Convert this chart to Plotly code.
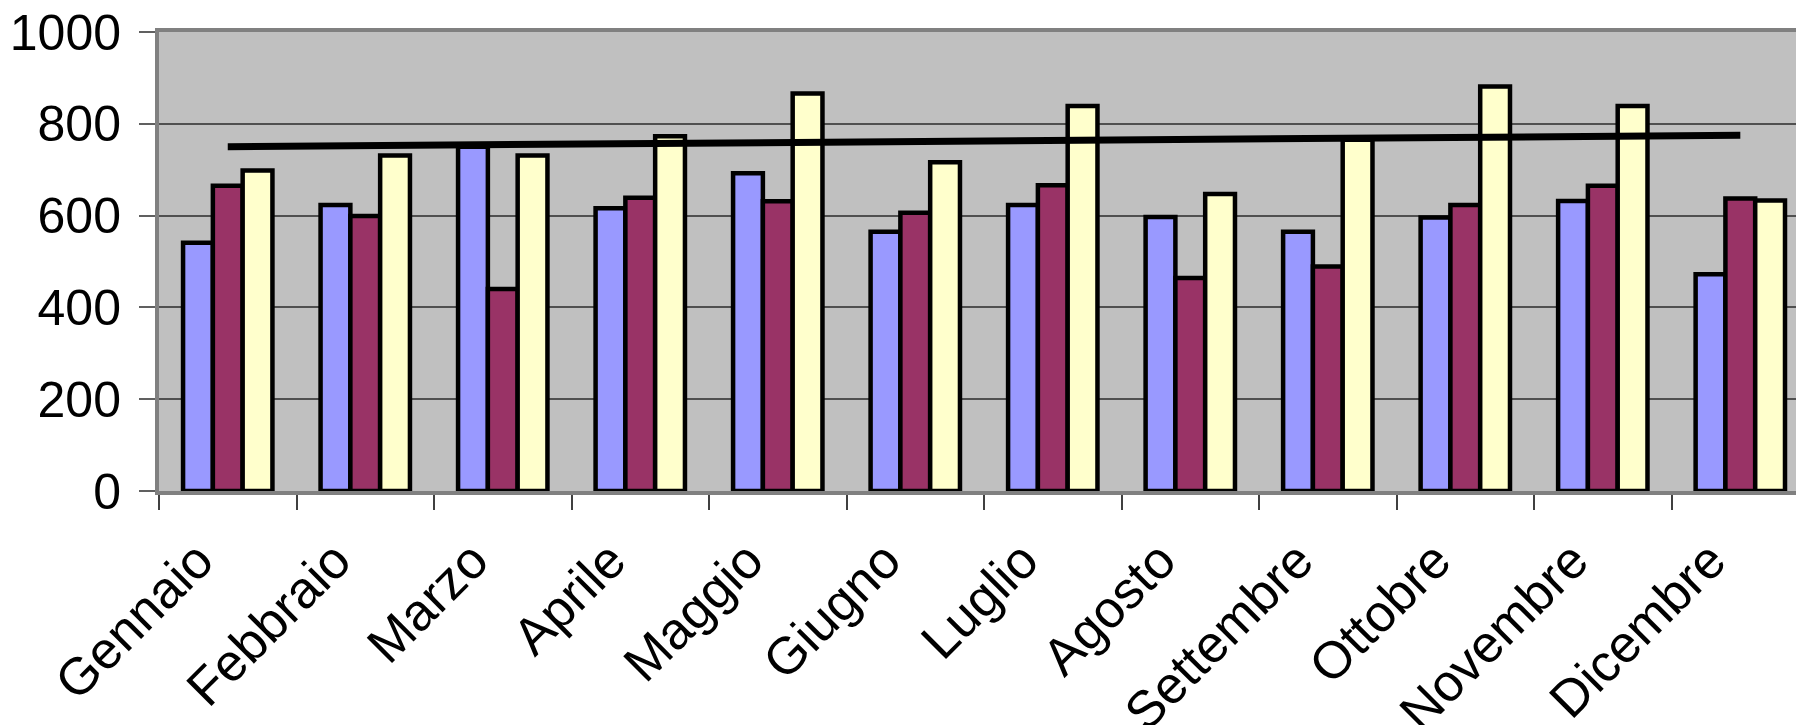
import plotly.graph_objects as go

months = ["Gennaio", "Febbraio", "Marzo", "Aprile", "Maggio", "Giugno",
          "Luglio", "Agosto", "Settembre", "Ottobre", "Novembre", "Dicembre"]
serie_blu = [541, 623, 750, 616, 692, 565, 623, 597, 565, 596, 632, 472]
serie_viola = [665, 599, 440, 639, 631, 606, 666, 464, 489, 623, 665, 637]
serie_gialla = [698, 731, 731, 773, 866, 716, 839, 647, 765, 881, 839, 633]
trend_x = ["Gennaio", "Dicembre"]
trend_y = [750, 775]
y_ticks = [0, 200, 400, 600, 800, 1000]

FONT = "Liberation Sans, Arial, sans-serif"
fig = go.Figure()
for vals, col in [(serie_blu, "#9999FF"), (serie_viola, "#993366"), (serie_gialla, "#FFFFCC")]:
    fig.add_trace(go.Bar(x=months, y=vals, marker=dict(color=col, line=dict(color="black", width=4.5))))
fig.add_trace(go.Scatter(x=trend_x, y=trend_y, mode="lines", line=dict(color="black", width=7)))

fig.update_layout(
    width=1796, height=725,
    margin=dict(l=159, r=0, t=32, b=234, autoexpand=False),
    plot_bgcolor="#C0C0C0", paper_bgcolor="white",
    showlegend=False, barmode="group", bargap=0.35, bargroupgap=0,
    font=dict(family=FONT, size=50, color="black"),
)
fig.update_xaxes(
    type="category", categoryorder="array", categoryarray=months,
    range=[-0.5, 11.405], tickangle=-45, tickson="boundaries", automargin=False,
    ticks="outside", ticklen=15, tickwidth=1.5, tickcolor="#404040",
    ticklabelstandoff=14, ticklabelshift=-30,
    showline=True, linecolor="#808080", linewidth=4, mirror=True,
    showgrid=False, tickfont=dict(family=FONT, size=52, color="black"),
)
fig.update_yaxes(
    range=[0, 1000], tickvals=y_ticks, ticks="outside", ticklen=16, automargin=False,
    tickwidth=1.5, tickcolor="#606060", ticklabelstandoff=8,
    showline=True, linecolor="#808080", linewidth=4,
    showgrid=True, gridcolor="#505050", gridwidth=1.5, zeroline=False,
    tickfont=dict(family=FONT, size=50, color="black"),
)
fig.write_html(
    "out.html",
    config={"displayModeBar": False},
    post_script="document.body.style.margin='0';document.body.style.overflow='hidden';",
)
